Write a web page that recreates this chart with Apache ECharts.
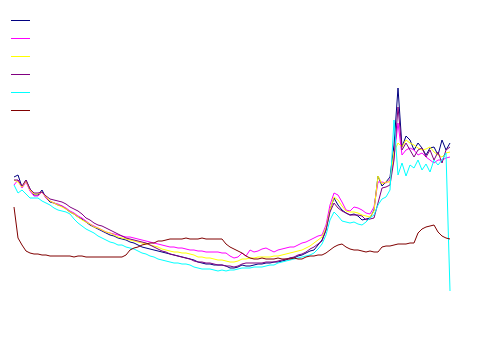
<!DOCTYPE html>
<html>
<head>
<meta charset="utf-8">
<script src="https://cdn.jsdelivr.net/npm/echarts@6/dist/echarts.min.js"></script>
<style>
html,body{margin:0;padding:0;background:#fff;}
#chart{width:487px;height:359px;}
</style>
</head>
<body>
<div id="chart"></div>
<script>
const seriesNames = ['Series 1', 'Series 2', 'Series 3', 'Series 4', 'Series 5', 'Series 6'];
const seriesColors = ['#000080', '#ff00ff', '#ffff00', '#800080', '#00ffff', '#800000'];

const navy = [114,116,104,111,102,96,96,101,93,89,88,86,85,82,79,77,74,72,69,66,64,62,60,58,56,55,53,52,51,49,48,46,44,43,42,41,40,39,38,37,36,35,34,33,32,31,29,28,27,27,26,26,26,25,23,23,24,26,25,25,26,27,27,28,28,29,29,30,31,33,33,35,36,38,40,41,46,51,61,81,93,86,81,78,76,77,75,71,72,73,81,115,105,109,114,146,203,144,155,151,141,148,143,136,143,144,136,151,141,148];
const magenta = [106,111,103,109,100,95,95,99,93,90,88,87,85,83,80,78,75,73,70,67,65,63,61,59,58,57,56,55,54,54,53,52,51,50,49,48,47,46,45,44,44,43,43,42,41,41,40,40,39,39,39,39,38,38,35,33,34,38,35,41,39,40,42,43,41,39,41,42,43,44,44,46,48,49,51,53,55,56,66,86,98,96,89,81,80,84,83,81,78,77,84,109,109,108,111,134,168,136,141,143,141,136,138,134,131,128,131,131,133,134];
const yellow = [111,109,104,110,101,97,97,99,94,90,88,86,84,82,79,77,74,71,69,67,64,63,61,59,58,56,54,53,52,51,50,49,48,47,46,45,44,42,41,40,39,39,38,38,37,36,34,34,33,33,32,31,31,30,29,29,30,32,32,33,33,34,34,34,34,35,35,36,37,38,39,40,41,43,45,48,51,54,63,81,94,91,85,80,79,79,78,76,75,74,80,115,107,109,109,139,148,144,151,148,146,143,141,142,144,139,136,134,138,139];
const purple = [111,111,105,111,102,98,98,99,95,92,91,90,89,87,84,82,80,77,73,71,68,66,65,63,61,59,57,55,53,52,51,50,49,48,46,44,42,40,39,37,36,35,34,33,32,30,29,29,28,28,27,26,26,25,25,24,25,27,28,28,28,28,28,29,29,29,30,31,32,33,34,36,37,39,42,44,47,50,61,79,88,83,80,78,76,76,76,75,71,72,73,88,103,104,106,131,184,141,148,141,134,141,143,134,141,131,139,128,141,144];
const cyan = [106,98,101,97,93,93,93,90,88,86,83,81,80,79,77,72,68,65,62,60,58,55,53,51,49,48,46,46,44,43,42,40,38,37,35,34,32,31,30,29,28,28,27,27,26,24,23,22,22,22,21,20,21,20,21,21,22,23,23,23,24,24,24,25,26,26,28,29,30,31,32,33,34,35,36,38,42,47,56,71,79,75,70,69,68,69,67,66,69,73,76,86,92,94,101,171,116,128,115,126,123,131,121,127,119,131,126,131,138,0];
const maroon = [84,53,46,40,38,37,37,36,36,35,35,35,35,35,35,34,35,35,34,34,34,34,34,34,34,34,34,34,36,41,43,44,46,47,48,48,50,50,51,52,52,52,52,53,52,52,52,53,52,52,52,52,52,47,44,42,40,38,35,33,32,32,33,32,32,32,33,32,32,32,33,32,32,34,35,35,36,36,38,41,44,46,47,44,42,41,41,40,39,40,39,39,44,45,45,46,47,47,47,48,48,58,62,64,65,66,59,55,53,52];

const allSeries = [navy, magenta, yellow, purple, cyan, maroon];
const categories = navy.map((_, i) => String(i + 1));

const chart = echarts.init(document.getElementById('chart'), null, {renderer: 'canvas'});
chart.setOption({
  animation: false,
  backgroundColor: '#ffffff',
  legend: {
    orient: 'vertical',
    left: 11,
    top: 20,
    padding: 0,
    icon: 'rect',
    itemWidth: 19,
    itemHeight: 1,
    itemGap: 17,
    formatter: () => '',
    textStyle: {fontSize: 12, padding: 0},
    data: seriesNames
  },
  grid: {left: 14, right: 37, top: 41, bottom: 68, containLabel: false},
  xAxis: {
    type: 'category',
    data: categories,
    boundaryGap: false,
    show: false
  },
  yAxis: {
    type: 'value',
    min: 0,
    max: 250,
    show: false
  },
  series: allSeries.map((d, k) => ({
    name: seriesNames[k],
    type: 'line',
    data: d,
    showSymbol: false,
    symbol: 'none',
    color: seriesColors[k],
    lineStyle: {width: 1, color: seriesColors[k]},
    emphasis: {disabled: true}
  }))
});
</script>
</body>
</html>
